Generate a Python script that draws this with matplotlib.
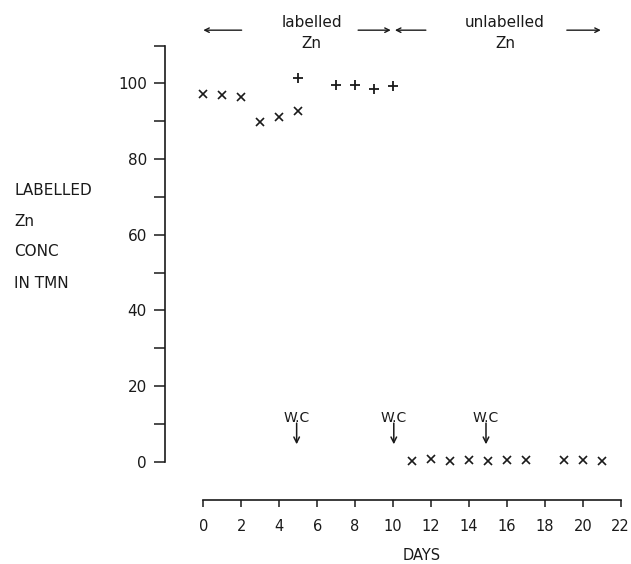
import matplotlib
matplotlib.use("Agg")
import matplotlib.pyplot as plt
from matplotlib.ticker import MultipleLocator

# ---- data ----
x_days_labelled = [0, 1, 2, 3, 4, 5]
x_vals_labelled = [97.2, 96.9, 96.4, 89.7, 91.1, 92.7]
plus_days = [5, 7, 8, 9, 10]
plus_vals = [101.5, 99.5, 99.5, 98.6, 99.2]
x_days_unlabelled = [11, 12, 13, 14, 15, 16, 17, 19, 20, 21]
x_vals_unlabelled = [0.2, 0.7, 0.2, 0.5, 0.2, 0.5, 0.5, 0.4, 0.4, 0.2]
wc_days = [4.92, 10.04, 14.9]
x_ticks = list(range(0, 23, 2))
y_ticks = [0, 20, 40, 60, 80, 100]
ylabel_lines = ["LABELLED", "Zn", "CONC", "IN TMN"]

W, H = 631, 564
fig = plt.figure(figsize=(W / 100, H / 100), dpi=100)
plt.rcParams['font.family'] = ['DejaVu Sans']

x0, x1 = 203.3, 620.7
y0, y1 = 461.7, 45.5
ax = fig.add_axes([x0 / W, (H - y0) / H, (x1 - x0) / W, (y0 - y1) / H])
ax.set_xlim(0, 22)
ax.set_ylim(0, 110)

ink = "#1a1a1a"
ax.plot(x_days_labelled, x_vals_labelled, linestyle="none", marker="x",
        ms=5.5, mew=1.2, color=ink, clip_on=False)
ax.plot(plus_days, plus_vals, linestyle="none", marker="+",
        ms=6.5, mew=1.3, color=ink, clip_on=False)
ax.plot(x_days_unlabelled, x_vals_unlabelled, linestyle="none", marker="x",
        ms=5.5, mew=1.2, color=ink, clip_on=False)

# spines
for s in ["top", "right"]:
    ax.spines[s].set_visible(False)
off = 38.3 * 72 / 100
ax.spines["left"].set_position(("outward", off))
ax.spines["bottom"].set_position(("outward", off))
ax.spines["left"].set_bounds(0, 110)
ax.spines["bottom"].set_bounds(0, 22)
for s in ["left", "bottom"]:
    ax.spines[s].set_linewidth(1.2)
    ax.spines[s].set_color(ink)

ax.set_yticks(y_ticks)
ax.yaxis.set_minor_locator(MultipleLocator(10))
ax.set_xticks(x_ticks)
ax.tick_params(axis="y", which="both", direction="out", length=8, width=1.1,
               color=ink, labelsize=11, pad=5, labelcolor=ink)
ax.tick_params(axis="x", which="major", direction="out", length=5, width=1.1,
               color=ink, labelsize=10.5, pad=9, labelcolor=ink)

fig.text((x0 + 11.5 * (x1 - x0) / 22) / W, 1 - 555 / H, "DAYS",
         ha="center", va="center", fontsize=10.5, color=ink)

# y label block
ys = [190.7, 221.7, 252.0, 283.3]
for t, yy in zip(ylabel_lines, ys):
    fig.text(14 / W, 1 - yy / H, t, ha="left", va="center", fontsize=11, color=ink)

# W.C annotations
for d in wc_days:
    ax.text(d, 11.5, "W.C", ha="center", va="center", fontsize=10, color=ink)
    ax.annotate("", xy=(d, 4.6), xytext=(d, 10.2),
                arrowprops=dict(arrowstyle="->", color=ink, lw=1.1,
                                shrinkA=0, shrinkB=0, mutation_scale=10))

# top period annotations
ytop = 114.05
arrows = [(2.02, 0.0), (8.16, 9.88), (11.73, 10.1), (19.16, 20.95)]
for a, b in arrows:
    ax.annotate("", xy=(b, ytop), xytext=(a, ytop), annotation_clip=False,
                arrowprops=dict(arrowstyle="->", color=ink, lw=1.0,
                                shrinkA=0, shrinkB=0, mutation_scale=8))
ax.text(5.72, 116.2, "labelled", ha="center", va="center", fontsize=11,
        color=ink, clip_on=False)
ax.text(5.72, 110.6, "Zn", ha="center", va="center", fontsize=11,
        color=ink, clip_on=False)
ax.text(15.9, 116.2, "unlabelled", ha="center", va="center", fontsize=11,
        color=ink, clip_on=False)
ax.text(15.9, 110.6, "Zn", ha="center", va="center", fontsize=11,
        color=ink, clip_on=False)

fig.savefig("out.png", dpi=100)
